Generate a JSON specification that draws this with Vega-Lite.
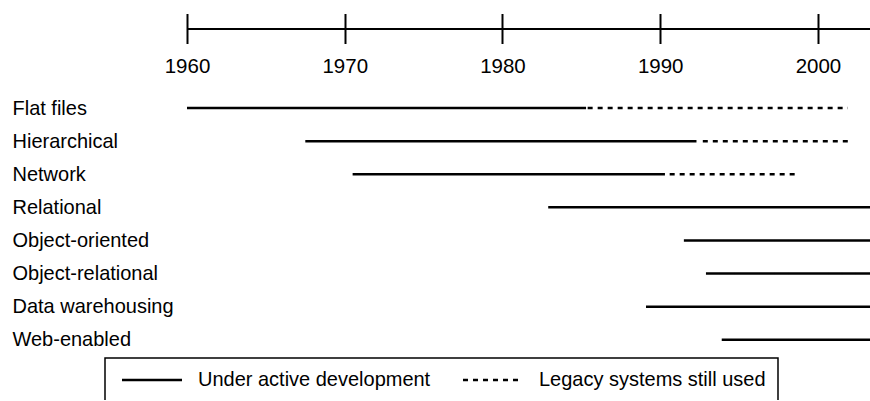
{
  "$schema": "https://vega.github.io/schema/vega-lite/v6.json",
  "autosize": {"type": "none"},
  "padding": {"left": 187, "top": 91.5, "right": 0, "bottom": 44},
  "width": 683,
  "height": 264.8,
  "background": "white",
  "config": {
    "view": {"stroke": null},
    "font": "Liberation Sans",
    "axis": {"labelColor": "black", "labelFont": "Liberation Sans", "grid": false},
    "legend": {"labelColor": "black", "labelFont": "Liberation Sans"}
  },
  "data": {
    "values": [
      {"db": "Flat files", "status": "Under active development", "start": 1960, "end": 1985.3},
      {"db": "Flat files", "status": "Legacy systems still used", "start": 1985.4, "end": 2001.9},
      {"db": "Hierarchical", "status": "Under active development", "start": 1967.5, "end": 1992.3},
      {"db": "Hierarchical", "status": "Legacy systems still used", "start": 1992.7, "end": 2002.1},
      {"db": "Network", "status": "Under active development", "start": 1970.5, "end": 1990.3},
      {"db": "Network", "status": "Legacy systems still used", "start": 1990.6, "end": 1998.8},
      {"db": "Relational", "status": "Under active development", "start": 1982.9, "end": 2003.3},
      {"db": "Object-oriented", "status": "Under active development", "start": 1991.5, "end": 2003.3},
      {"db": "Object-relational", "status": "Under active development", "start": 1992.9, "end": 2003.3},
      {"db": "Data warehousing", "status": "Under active development", "start": 1989.1, "end": 2003.3},
      {"db": "Web-enabled", "status": "Under active development", "start": 1993.9, "end": 2003.3}
    ]
  },
  "resolve": {"axis": {"x": "independent"}},
  "layer": [
    {
      "transform": [{"filter": "datum.status === 'Under active development'"}],
      "mark": {"type": "rule", "strokeWidth": 2.5, "color": "black"},
      "encoding": {
        "x": {
          "field": "start", "type": "quantitative",
          "scale": {"domain": [1960, 2003.3], "nice": false, "zero": false},
          "axis": {
            "orient": "top", "offset": 63, "title": null, "values": [1960, 1970, 1980, 1990, 2000],
            "domain": true, "domainColor": "black", "domainWidth": 2,
            "ticks": true, "tickSize": 15, "tickWidth": 2, "tickColor": "black",
            "labels": false, "grid": false
          }
        },
        "x2": {"field": "end"},
        "y": {
          "field": "db", "type": "nominal",
          "sort": ["Flat files", "Hierarchical", "Network", "Relational", "Object-oriented", "Object-relational", "Data warehousing", "Web-enabled"],
          "scale": {"type": "point", "padding": 0.5},
          "axis": {
            "title": null, "domain": false, "ticks": false, "tickSize": 0,
            "labelAlign": "left", "labelPadding": 175, "labelFontSize": 20, "labelColor": "black", "labelBaseline": "middle", "labelLimit": 400
          }
        },
        "strokeDash": {
          "field": "status", "type": "nominal",
          "scale": {"domain": ["Under active development", "Legacy systems still used"], "range": [[1, 0], [5, 5]]},
          "legend": {
            "title": null, "orient": "none", "direction": "horizontal", "legendX": -82, "legendY": 266.5,
            "symbolType": "M-1,0H11", "symbolSize": 100, "symbolStrokeWidth": 2.5, "symbolStrokeColor": "black",
            "labelFontSize": 20, "labelOffset": 61, "labelLimit": 400, "columnPadding": 27, "padding": 12, "strokeColor": "black",
            "encode": {"legend": {"update": {"strokeWidth": {"value": 1.5}}}}
          }
        }
      }
    },
    {
      "transform": [{"filter": "datum.status === 'Legacy systems still used'"}],
      "mark": {"type": "rule", "strokeWidth": 2.5, "color": "black"},
      "encoding": {
        "x": {
          "field": "start", "type": "quantitative",
          "scale": {"domain": [1960, 2003.3], "nice": false, "zero": false},
          "axis": {
            "orient": "top", "offset": 63, "title": null, "values": [1960, 1970, 1980, 1990, 2000],
            "domain": false, "ticks": true, "tickSize": -15, "tickWidth": 2, "tickColor": "black",
            "labels": true, "labelFlush": false, "labelBaseline": "top", "labelPadding": -13.5,
            "labelFontSize": 20.5, "labelColor": "black", "format": "d", "labelOverlap": false, "grid": false
          }
        },
        "x2": {"field": "end"},
        "y": {
          "field": "db", "type": "nominal",
          "sort": ["Flat files", "Hierarchical", "Network", "Relational", "Object-oriented", "Object-relational", "Data warehousing", "Web-enabled"],
          "scale": {"type": "point", "padding": 0.5},
          "axis": {
            "title": null, "domain": false, "ticks": false, "tickSize": 0,
            "labelAlign": "left", "labelPadding": 175, "labelFontSize": 20, "labelColor": "black", "labelBaseline": "middle", "labelLimit": 400
          }
        },
        "strokeDash": {"field": "status", "type": "nominal"}
      }
    }
  ]
}
